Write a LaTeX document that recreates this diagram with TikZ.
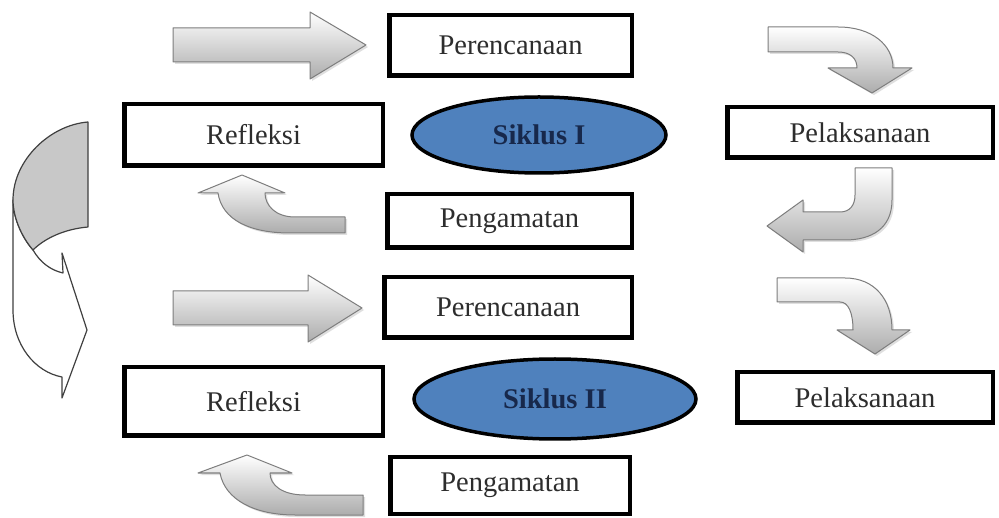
\documentclass[tikz,border=0pt]{standalone}
\usepackage{fontspec}
\setmainfont{Liberation Serif}
\usetikzlibrary{shapes.geometric,shadows}
\definecolor{siklusblue}{RGB}{79,129,189}
\definecolor{siklustext}{RGB}{23,40,75}
\definecolor{labeltext}{RGB}{45,45,45}
\definecolor{arrowline}{RGB}{125,125,125}
\definecolor{bigarrowfill}{RGB}{200,200,200}
\tikzset{
  box/.style={draw=black, line width=4.5pt, fill=white, inner sep=0pt,
    text=labeltext, font=\fontsize{28.5}{31}\selectfont},
  siklus/.style={ellipse, draw=black, line width=3.5pt, fill=siklusblue, inner sep=0pt,
    text=siklustext, font=\fontsize{28.5}{31}\selectfont\bfseries},
  blockarrow/.style={draw=arrowline, line width=1pt, line join=round,
    top color=white, bottom color=gray!65,
    drop shadow={opacity=0.25, shadow xshift=2pt, shadow yshift=-2pt}},
  bigarrow/.style={draw=black!75, line width=1.2pt, line join=round}
}
\begin{document}
\begin{tikzpicture}[x=1pt,y=-1pt]
\useasboundingbox[fill=white] (0,0) rectangle (999,518);

% ---- Siklus I ----
\node[box, minimum width=242.5pt, minimum height=60.5pt] (p1) at (510.5,45.5) {Perencanaan};
\node[box, minimum width=258.5pt, minimum height=61.5pt] (r1) at (253.5,135) {Refleksi};
\node[siklus, minimum width=254pt, minimum height=76pt] (e1) at (539,135) {Siklus I};
\node[box, minimum width=265.5pt, minimum height=50.5pt] (l1) at (860,132.5) {Pelaksanaan};
\node[box, minimum width=244.5pt, minimum height=53.5pt] (g1) at (509.5,221) {Pengamatan};

% ---- Siklus II ----
\node[box, minimum width=247.5pt, minimum height=60.5pt] (p2) at (508,307.5) {Perencanaan};
\node[box, minimum width=258.5pt, minimum height=68.5pt] (r2) at (253.5,401.5) {Refleksi};
\node[siklus, minimum width=282pt, minimum height=80pt] (e2) at (555,399) {Siklus II};
\node[box, minimum width=255.5pt, minimum height=50.5pt] (l2) at (865,397.5) {Pelaksanaan};
\node[box, minimum width=239.5pt, minimum height=56.5pt] (g2) at (510,485.5) {Pengamatan};

% ---- straight arrows ----
\draw[blockarrow] (173,28) -- (310,28) -- (310,12) -- (366,45) -- (310,79) -- (310,62) -- (173,62) -- cycle;
\draw[blockarrow] (173,291) -- (308,291) -- (308,275) -- (362,308) -- (308,342) -- (308,325) -- (173,325) -- cycle;

% ---- right then down (Perencanaan -> Pelaksanaan) ----
\draw[blockarrow] (768,27) -- (838,27) .. controls (872,27) and (893,45) .. (893,68)
  -- (912,68) -- (872,93) -- (828,68) -- (857,68)
  .. controls (857,58) and (850,52) .. (838,52) -- (768,52) -- cycle;
\draw[blockarrow] (777,278) -- (845,278) .. controls (875,278) and (892,300) .. (892,330)
  -- (910,330) -- (875,354) -- (837,330) -- (853,330)
  .. controls (853,312) and (848,302) .. (840,302) -- (777,302) -- cycle;

% ---- down then left (Pelaksanaan -> Pengamatan) ----
\draw[blockarrow] (855,168) -- (892,168) -- (892,200) .. controls (892,228) and (872,240) .. (845,240)
  -- (803,240) -- (803,252) -- (767,226) -- (803,200) -- (803,212) -- (840,212)
  .. controls (850,212) and (855,205) .. (855,195) -- cycle;

% ---- left then up (Pengamatan -> Refleksi) ----
\draw[blockarrow] (345,217) -- (295,217) .. controls (275,217) and (265,205) .. (265,193)
  -- (285,193) -- (242,175) -- (198,193) -- (218,193)
  .. controls (222,220) and (250,233) .. (290,233) -- (345,233) -- cycle;
\draw[blockarrow] (363,495) -- (305,495) .. controls (282,495) and (270,485) .. (270,473)
  -- (292,473) -- (247,455) -- (198,473) -- (220,473)
  .. controls (225,500) and (255,515) .. (295,515) -- (363,515) -- cycle;

% ---- big curved arrow on the left ----
\draw[bigarrow, fill=white] (13,200) -- (13,310) .. controls (13,345) and (35,372) .. (62,377)
  -- (62,398) -- (87,330) -- (62,253) -- (63,273)
  .. controls (50,270) and (40,262) .. (33,250)
  .. controls (20,235) and (13,215) .. (13,200) -- cycle;
\draw[bigarrow, fill=bigarrowfill] (88,122) -- (88,227) .. controls (65,229) and (45,238) .. (33,250)
  .. controls (20,235) and (13,215) .. (13,200)
  .. controls (13,160) and (50,125) .. (88,122) -- cycle;
\end{tikzpicture}
\end{document}
